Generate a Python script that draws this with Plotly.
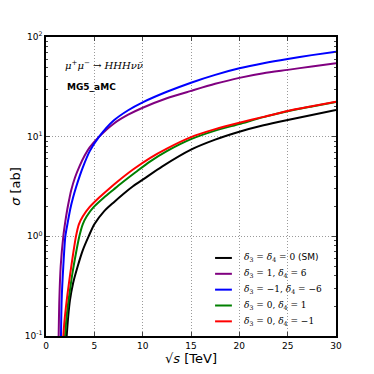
import plotly.graph_objects as go

# --- data (sqrt(s) in TeV, sigma in ab) ---
x_sm = [2.14, 2.3, 2.48, 2.8, 3.28, 3.8, 4.41, 5.0, 6.0, 7.0, 8.0, 9.0, 10.17, 12.0, 15.0, 17.5, 20.0, 22.5, 25.0, 27.5, 30.0]
y_sm = [0.1, 0.158, 0.229, 0.339, 0.501, 0.724, 1.0, 1.32, 1.78, 2.19, 2.66, 3.18, 3.80, 5.01, 7.41, 9.33, 11.2, 13.0, 14.7, 16.5, 18.5]

x_p = [1.31, 1.38, 1.52, 1.79, 2.0, 2.2, 2.4, 2.6, 3.0, 3.45, 4.0, 4.5, 5.5, 7.0, 8.5, 10.0, 12.5, 15.0, 17.5, 20.0, 22.5, 25.0, 27.5, 30.0]
y_p = [0.1, 0.229, 0.501, 1.0, 1.41, 1.86, 2.34, 2.88, 3.89, 5.01, 6.46, 7.76, 10.0, 13.5, 16.6, 19.5, 24.3, 28.8, 33.9, 38.9, 43.2, 46.8, 50.7, 54.5]

x_b = [1.55, 1.62, 1.79, 2.0, 2.25, 2.5, 2.8, 3.1, 3.5, 3.8, 4.5, 5.5, 7.0, 8.5, 10.0, 12.5, 15.0, 17.5, 20.0, 22.5, 25.0, 27.5, 30.0]
y_b = [0.1, 0.229, 0.501, 1.0, 1.38, 1.86, 2.45, 3.09, 4.07, 4.90, 7.08, 10.0, 14.5, 18.4, 22.1, 28.2, 34.8, 41.7, 48.5, 54.6, 60.3, 65.8, 71.3]

x_g = [1.97, 2.08, 2.23, 2.45, 2.72, 3.08, 3.45, 3.8, 4.2, 4.9, 6.0, 7.0, 7.76, 9.3, 10.75, 12.5, 15.0, 17.5, 20.0, 22.5, 25.0, 27.5, 30.0]
y_g = [0.1, 0.138, 0.191, 0.275, 0.417, 0.661, 1.0, 1.32, 1.58, 1.95, 2.45, 2.95, 3.39, 4.42, 5.62, 7.16, 9.44, 11.5, 13.4, 15.7, 18.0, 20.1, 22.3]

x_r = [1.79, 1.9, 2.05, 2.25, 2.5, 2.8, 3.1, 3.4, 3.8, 4.48, 5.5, 6.5, 7.41, 9.0, 10.75, 12.5, 15.0, 17.5, 20.0, 22.5, 25.0, 27.5, 30.0]
y_r = [0.1, 0.138, 0.191, 0.275, 0.417, 0.661, 1.0, 1.32, 1.58, 1.95, 2.45, 2.99, 3.55, 4.68, 6.10, 7.59, 9.89, 11.9, 13.8, 15.8, 18.1, 20.2, 22.4]

labels = [
    "<i>δ</i><sub>3</sub> = <i>δ</i><sub>4</sub> = 0 <span style='font-family:DejaVu Sans'>(SM)</span>",
    "<i>δ</i><sub>3</sub> = 1, <i>δ</i><sub>4</sub> = 6",
    "<i>δ</i><sub>3</sub> = −1, <i>δ</i><sub>4</sub> = −6",
    "<i>δ</i><sub>3</sub> = 0, <i>δ</i><sub>4</sub> = 1",
    "<i>δ</i><sub>3</sub> = 0, <i>δ</i><sub>4</sub> = −1",
]
colors = ["#000000", "#800080", "#0000ff", "#008000", "#ff0000"]
series = [(x_sm, y_sm), (x_p, y_p), (x_b, y_b), (x_g, y_g), (x_r, y_r)]

x_ticks = [0, 5, 10, 15, 20, 25, 30]
y_ticks = [0.1, 1, 10, 100]
y_ticktext = ["10<sup>-1</sup>", "10<sup>0</sup>", "10<sup>1</sup>", "10<sup>2</sup>"]

fig = go.Figure()
for (xs, ys), c, lab in zip(series, colors, labels):
    fig.add_trace(go.Scatter(x=xs, y=ys, mode="lines", name=lab, showlegend=False,
                             line=dict(color=c, width=2, shape="spline", smoothing=0.7)))

minor_y = [m * 10 ** e for e in (-1, 0, 1) for m in range(2, 10)]

fig.update_layout(
    width=366, height=366,
    margin=dict(l=38, r=38, t=29, b=38, autoexpand=False),
    paper_bgcolor="white", plot_bgcolor="white",
    font=dict(family="DejaVu Sans", color="black", size=9),
    showlegend=False,
    xaxis=dict(range=[0, 30], tickvals=x_ticks, ticks="inside", ticklen=4,
               showline=True, linecolor="black", linewidth=1.5, mirror="allticks",
               showgrid=True, gridcolor="#9a9a9a", griddash="1px,2px", gridwidth=1,
               zeroline=False, automargin=False,
               title=dict(text="√<i>s</i> [TeV]", font=dict(size=13), standoff=0)),
    yaxis=dict(type="log", range=[-1, 2], tickvals=y_ticks, ticktext=y_ticktext,
               ticks="inside", ticklen=4, automargin=False,
               showline=True, linecolor="black", linewidth=1.5, mirror="allticks",
               showgrid=True, gridcolor="#9a9a9a", griddash="1px,2px", gridwidth=1,
               minor=dict(tickvals=minor_y, ticks="inside", ticklen=2, showgrid=False),
               title=dict(text="<i>σ</i> [ab]", font=dict(size=13), standoff=2)),
)

# legend drawn as keys + labels (bottom right, no frame)
row_y = [0.261, 0.208, 0.155, 0.102, 0.049]
for lab, c, yy in zip(labels, colors, row_y):
    fig.add_shape(type="line", xref="paper", yref="paper", x0=0.583, x1=0.641, y0=yy, y1=yy,
                  line=dict(color=c, width=2))
    fig.add_annotation(xref="paper", yref="paper", x=0.675, y=yy, xanchor="left", yanchor="middle",
                       text=lab, showarrow=False, font=dict(family="DejaVu Serif", size=9))

fig.add_annotation(xref="paper", yref="paper", x=0.06, y=0.905, xanchor="left", yanchor="middle",
                   text="<i>μ</i><sup>+</sup><i>μ</i><sup>−</sup> → <i>HHHνν̄</i>",
                   showarrow=False, font=dict(family="DejaVu Serif", size=10))
fig.add_annotation(xref="paper", yref="paper", x=0.065, y=0.833, xanchor="left", yanchor="middle",
                   text="<b>MG5_aMC</b>", showarrow=False, font=dict(family="DejaVu Sans", size=9))

fig.write_html("out.html")
